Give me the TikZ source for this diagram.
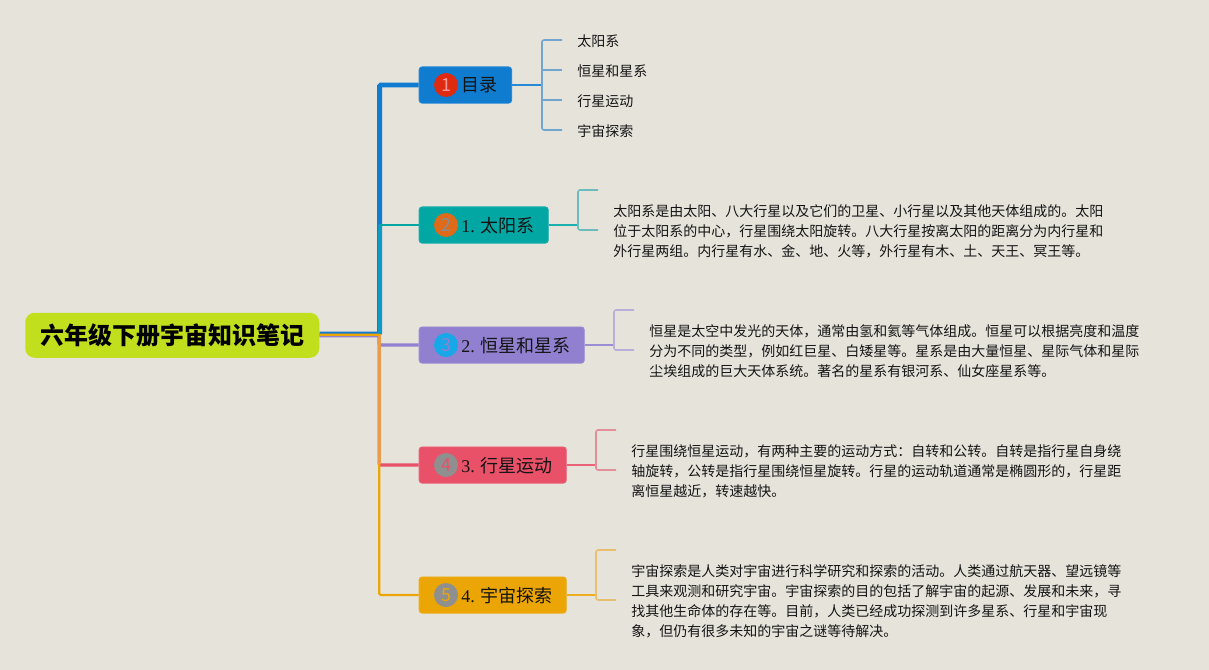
\documentclass[tikz,border=0pt]{standalone}
\usepackage{fontspec}
\setmainfont{Liberation Serif}
\newfontfamily\cjk{Noto Sans CJK SC}
\definecolor{bgc}{HTML}{E6E3DB}
\definecolor{rootc}{HTML}{C2DF1E}
\definecolor{ca}{HTML}{0F7CD0}
\definecolor{cb}{HTML}{02A7A4}
\definecolor{cc}{HTML}{9080CF}
\definecolor{cd}{HTML}{E85168}
\definecolor{ce}{HTML}{EBA606}
\definecolor{bluebr}{HTML}{6FA5CE}
\definecolor{tealbr}{HTML}{6DBCBC}
\definecolor{purpbr}{HTML}{B9AFD9}
\definecolor{redbr}{HTML}{E48E9A}
\definecolor{orgbr}{HTML}{E7C06F}
\definecolor{orgred}{HTML}{EA9C4C}
\definecolor{bluet}{HTML}{0E9AC6}
\definecolor{bdga}{HTML}{DD2A10}
\definecolor{bdgb}{HTML}{DF6A1A}
\definecolor{bdgc}{HTML}{18A8E8}
\definecolor{bdgd}{HTML}{8F8F8F}
\tikzset{
  x=0.75pt,y=-0.75pt,
  topic/.style={draw=#1!90!white,line width=0.6pt,fill=#1,rounded corners=2.2pt,minimum height=27.2pt,inner sep=0pt,text=black!90,anchor=north west,align=center},
  badge/.style={circle,minimum size=18pt,inner sep=0pt,font=\fontsize{13.5}{15}\cjk},
  sub/.style={font=\fontsize{10.5}{13}\cjk,text=black!92,anchor=west,inner sep=0pt},
  body/.style={font=\fontsize{10.5}{15}\cjk,text=black!92,anchor=west,inner sep=0pt,align=left},
  lab/.style={anchor=west,inner sep=0pt,font=\fontsize{13.5}{15}\selectfont,text=black!92},
  br/.style={draw=#1,line width=1.15pt,rounded corners=1.5pt},
  stem/.style={draw=#1!90!white,line width=1.4pt},
  trunk/.style={draw=#1,rounded corners=1pt}
}
\begin{document}
\begin{tikzpicture}
\useasboundingbox (0,0) rectangle (1209,670);
\fill[bgc] (0,0) rectangle (1209,670);
% nodes
\node[fill=rootc,rounded corners=7pt,minimum width=220.5pt,minimum height=33.75pt,inner sep=0pt,anchor=north west] (root) at (25,312.5) {};
\node[font=\fontsize{18}{22}\cjk\bfseries,text=black] (roott) at (root.center) {六年级下册宇宙知识笔记};
\node[topic=ca,minimum width=69.4pt] (n1) at (418.7,66.5) {};
\node[topic=cb,minimum width=96.9pt] (n2) at (418.7,206.5) {};
\node[topic=cc,minimum width=123.9pt] (n3) at (418.7,326.5) {};
\node[topic=cd,minimum width=110.4pt] (n4) at (418.7,446.5) {};
\node[topic=ce,minimum width=110.4pt] (n5) at (418.7,576.5) {};
% trunk
\draw[trunk=ca,line width=3.7pt] (root.east |- 0,334) -| (379.6,85) -- (n1.west |- 0,85);
\draw[draw=bluet,line width=2.6pt] (379.9,334) -- (379.9,225);
\draw[draw=cb,line width=1.5pt] (379,225) -- (n2.west |- 0,225);
\draw[trunk=cc,line width=2.6pt] (root.east |- 0,335.7) -| (379,345) -- (n3.west |- 0,345);
\draw[trunk=cd,line width=2.4pt] (379.2,345) -- (379.2,465) -- (n4.west |- 0,465);
\draw[trunk=ce,line width=1.6pt] (root.east |- 0,334.6) -| (379.2,595) -- (n5.west |- 0,595);
\draw[draw=orgred,line width=2.4pt] (379.2,334) -- (379.2,464);
\draw[draw=ce,line width=1.5pt] (root.east |- 0,334.6) -- (380,334.6);
% badges and labels
\node[badge,fill=bdga,text=red!40!white] (b1) at (446,85) {1};
\node[badge,fill=bdgb,text=black!45] (b2) at (446,225) {2};
\node[badge,fill=bdgc,text=cc] (b3) at (446,345) {3};
\node[badge,fill=bdgd,text=cd] (b4) at (446,465) {4};
\node[badge,fill=bdgd,text=ce] (b5) at (446,595) {5};
\node[lab] (l1) at (461,85.5) {\cjk 目录};
\node[lab] (l2) at (461,225.5) {1. \cjk 太阳系};
\node[lab] (l3) at (461,345.5) {2. \cjk 恒星和星系};
\node[lab] (l4) at (461,465.5) {3. \cjk 行星运动};
\node[lab] (l5) at (461,595.5) {4. \cjk 宇宙探索};
% leaves
\node[sub] (a1) at (577,41) {太阳系};
\node[sub] (a2) at (577,71) {恒星和星系};
\node[sub] (a3) at (577,101) {行星运动};
\node[sub] (a4) at (577,131) {宇宙探索};
\coordinate (a1e) at (562,40);
\coordinate (a2e) at (562,70);
\coordinate (a3e) at (562,100);
\coordinate (a4e) at (562,130);
\draw[stem=ca] (n1.east |- 0,85) -- (542,85);
\draw[br=bluebr] (a1e) -- (542,40) -- (542,130) -- (a4e);
\draw[br=bluebr] (542,70) -- (a2e);
\draw[br=bluebr] (542,100) -- (a3e);
\node[body] (t2) at (613,231) {太阳系是由太阳、八大行星以及它们的卫星、小行星以及其他天体组成的。太阳\\位于太阳系的中心，行星围绕太阳旋转。八大行星按离太阳的距离分为内行星和\\外行星两组。内行星有水、金、地、火等，外行星有木、土、天王、冥王等。};
\node[body] (t3) at (649,351) {恒星是太空中发光的天体，通常由氢和氦等气体组成。恒星可以根据亮度和温度\\分为不同的类型，例如红巨星、白矮星等。星系是由大量恒星、星际气体和星际\\尘埃组成的巨大天体系统。著名的星系有银河系、仙女座星系等。};
\node[body] (t4) at (631,471) {行星围绕恒星运动，有两种主要的运动方式：自转和公转。自转是指行星自身绕\\轴旋转，公转是指行星围绕恒星旋转。行星的运动轨道通常是椭圆形的，行星距\\离恒星越近，转速越快。};
\node[body] (t5) at (631,601) {宇宙探索是人类对宇宙进行科学研究和探索的活动。人类通过航天器、望远镜等\\工具来观测和研究宇宙。宇宙探索的目的包括了解宇宙的起源、发展和未来，寻\\找其他生命体的存在等。目前，人类已经成功探测到许多星系、行星和宇宙现\\象，但仍有很多未知的宇宙之谜等待解决。};
\coordinate (c2a) at (598,190); \coordinate (c2b) at (598,230);
\coordinate (c3a) at (634,310); \coordinate (c3b) at (634,350);
\coordinate (c4a) at (616,430); \coordinate (c4b) at (616,470);
\coordinate (c5a) at (616,550); \coordinate (c5b) at (616,600);
\draw[stem=cb] (n2.east |- 0,225) -- (578,225);
\draw[br=tealbr] (c2a) -| (578,230) -- (c2b);
\draw[stem=cc] (n3.east |- 0,345) -- (614,345);
\draw[br=purpbr] (c3a) -| (614,350) -- (c3b);
\draw[stem=cd] (n4.east |- 0,465) -- (596,465);
\draw[br=redbr] (c4a) -| (596,470) -- (c4b);
\draw[stem=ce] (n5.east |- 0,595) -- (596,595);
\draw[br=orgbr] (c5a) -| (596,600) -- (c5b);
\end{tikzpicture}
\end{document}
